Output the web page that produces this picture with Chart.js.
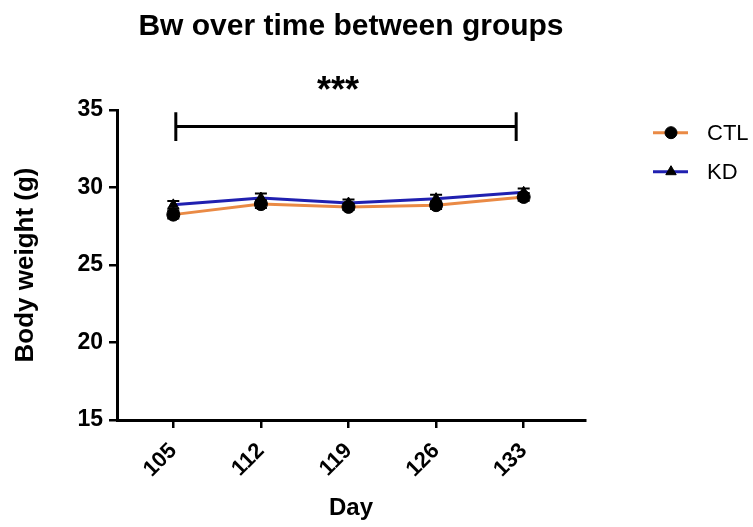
<!DOCTYPE html>
<html>
<head>
<meta charset="utf-8">
<script src="https://cdn.jsdelivr.net/npm/chart.js@4.4.1/dist/chart.umd.min.js"></script>
<style>
  html, body { margin: 0; padding: 0; background: #ffffff; }
  #wrap { width: 753px; height: 527px; }
</style>
</head>
<body>
<div id="wrap"><canvas id="c" width="753" height="527"></canvas></div>
<script>
// ---- data ----
const days = [105, 112, 119, 126, 133];
const ctlMean = [28.25, 28.93, 28.75, 28.86, 29.39];
const ctlErr  = [0.25, 0.25, 0.2, 0.25, 0.25];
const kdMean  = [28.88, 29.32, 29.0, 29.28, 29.69];
const kdErr   = [0.25, 0.3, 0.22, 0.25, 0.25];
const yTicks  = [15, 20, 25, 30, 35];
const seriesNames = ['CTL', 'KD'];
const bracketDays = [105.2, 132.4];
const bracketLevel = 33.93;
const bracketEnds = [34.85, 33.0];
const sigLabel = '***';

const FONT = "Arial, 'Liberation Sans', Helvetica, sans-serif";
const ORANGE = '#EA8A45';
const BLUE = '#2020B0';

const errBars = [ctlErr, kdErr];

const errorBarPlugin = {
  id: 'errorBars',
  afterDatasetsDraw(chart) {
    const ctx = chart.ctx, xs = chart.scales.x, ys = chart.scales.y;
    ctx.save();
    ctx.strokeStyle = '#000';
    ctx.lineWidth = 2;
    chart.data.datasets.forEach((ds, i) => {
      ds.data.forEach((p, j) => {
        const e = errBars[i][j];
        const x = xs.getPixelForValue(p.x);
        const yt = ys.getPixelForValue(p.y + e);
        const yb = ys.getPixelForValue(p.y - e);
        ctx.beginPath();
        ctx.moveTo(x, yt); ctx.lineTo(x, yb);
        ctx.moveTo(x - 6, yt); ctx.lineTo(x + 6, yt);
        ctx.moveTo(x - 6, yb); ctx.lineTo(x + 6, yb);
        ctx.stroke();
      });
    });
    ctx.restore();
  }
};

const bracketPlugin = {
  id: 'bracket',
  afterDraw(chart) {
    const ctx = chart.ctx, xs = chart.scales.x, ys = chart.scales.y;
    const x1 = xs.getPixelForValue(bracketDays[0]);
    const x2 = xs.getPixelForValue(bracketDays[1]);
    const y = ys.getPixelForValue(bracketLevel);
    const yTop = ys.getPixelForValue(bracketEnds[0]);
    const yBot = ys.getPixelForValue(bracketEnds[1]);
    ctx.save();
    ctx.strokeStyle = '#000';
    ctx.lineWidth = 3;
    ctx.beginPath();
    ctx.moveTo(x1, y); ctx.lineTo(x2, y);
    ctx.moveTo(x1, yTop); ctx.lineTo(x1, yBot);
    ctx.moveTo(x2, yTop); ctx.lineTo(x2, yBot);
    ctx.stroke();
    ctx.fillStyle = '#000';
    ctx.font = 'bold 36px ' + FONT;
    ctx.textAlign = 'center';
    ctx.textBaseline = 'middle';
    ctx.fillText(sigLabel, (x1 + x2) / 2 - 8, ys.getPixelForValue(35) - 18);
    ctx.restore();
  }
};

const legendPlugin = {
  id: 'customLegend',
  afterDraw(chart) {
    const ctx = chart.ctx;
    const rows = [132.7, 171.7];
    chart.data.datasets.forEach((ds, i) => {
      const y = rows[i];
      ctx.save();
      ctx.strokeStyle = ds.borderColor;
      ctx.lineWidth = 3;
      ctx.beginPath();
      ctx.moveTo(653, y); ctx.lineTo(688, y);
      ctx.stroke();
      ctx.fillStyle = '#000';
      ctx.strokeStyle = '#000';
      ctx.lineWidth = 1;
      Chart.helpers.drawPoint(ctx, { pointStyle: ds.pointStyle, radius: 6, rotation: 0, borderWidth: 1 }, 671, y);
      ctx.fillStyle = '#000';
      ctx.font = '22px ' + FONT;
      ctx.textAlign = 'left';
      ctx.textBaseline = 'middle';
      ctx.fillText(ds.label, 707, y + 1);
      ctx.restore();
    });
  }
};

new Chart(document.getElementById('c'), {
  type: 'line',
  data: {
    datasets: [
      {
        label: seriesNames[0],
        data: days.map((d, i) => ({ x: d, y: ctlMean[i] })),
        borderColor: ORANGE,
        borderWidth: 3,
        pointStyle: 'circle',
        pointRadius: 6.5,
        pointBackgroundColor: '#000',
        pointBorderColor: '#000',
        pointBorderWidth: 1,
        tension: 0
      },
      {
        label: seriesNames[1],
        data: days.map((d, i) => ({ x: d, y: kdMean[i] })),
        borderColor: BLUE,
        borderWidth: 3,
        pointStyle: 'triangle',
        pointRadius: 6,
        pointBackgroundColor: '#000',
        pointBorderColor: '#000',
        pointBorderWidth: 1,
        tension: 0
      }
    ]
  },
  options: {
    responsive: false,
    animation: false,
    layout: { padding: { left: 0, right: 168, top: 0, bottom: 0 } },
    plugins: {
      legend: { display: false },
      tooltip: { enabled: false },
      title: {
        display: true,
        text: 'Bw over time between groups',
        fullSize: false,
        color: '#000',
        font: { family: FONT, size: 30, weight: 'bold' },
        padding: { top: 9, bottom: 65 }
      }
    },
    scales: {
      x: {
        type: 'linear',
        min: 100.5,
        max: 137.9,
        afterBuildTicks(scale) { scale.ticks = days.map(v => ({ value: v })); },
        afterFit(scale) { scale.height = 107; },
        border: { display: true, color: '#000', width: 3 },
        grid: { drawOnChartArea: false, drawTicks: true, color: '#000', lineWidth: 2.5, tickLength: 8 },
        ticks: {
          color: '#000',
          font: { family: FONT, size: 22, weight: 'bold' },
          minRotation: 45, maxRotation: 45,
          padding: 10,
          autoSkip: false
        },
        title: {
          display: true,
          text: 'Day',
          color: '#000',
          font: { family: FONT, size: 24, weight: 'bold' },
          padding: { top: 0, bottom: 4 }
        }
      },
      y: {
        type: 'linear',
        min: 15,
        max: 35,
        afterBuildTicks(scale) { scale.ticks = yTicks.map(v => ({ value: v })); },
        afterFit(scale) { scale.width = 117; },
        border: { display: true, color: '#000', width: 3 },
        grid: { drawOnChartArea: false, drawTicks: true, color: '#000', lineWidth: 2.5, tickLength: 8 },
        ticks: {
          color: '#000',
          font: { family: FONT, size: 23, weight: 'bold' },
          padding: 6
        },
        title: {
          display: true,
          text: 'Body weight (g)',
          color: '#000',
          font: { family: FONT, size: 26, weight: 'bold' },
          padding: { top: 10, bottom: 0 }
        }
      }
    }
  },
  plugins: [errorBarPlugin, bracketPlugin, legendPlugin]
});
</script>
</body>
</html>
